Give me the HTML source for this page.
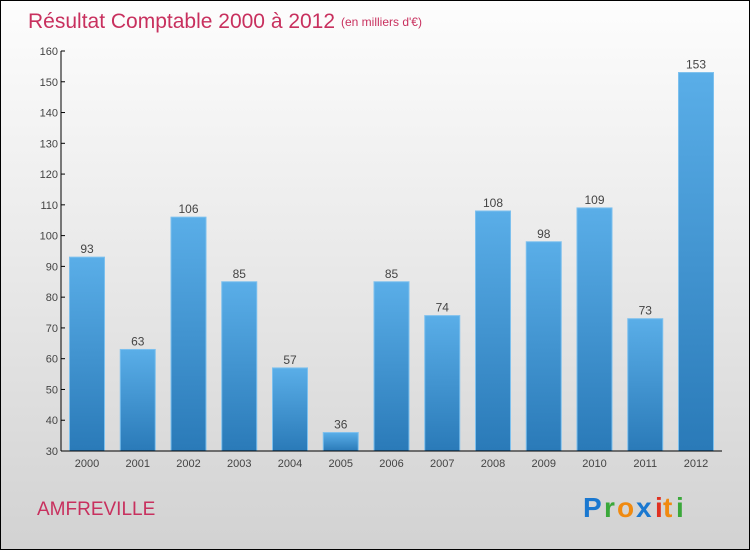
<!DOCTYPE html>
<html><head><meta charset="utf-8"><style>
body{margin:0}
#c{width:750px;height:550px;position:relative;overflow:hidden;background:linear-gradient(#fdfdfd,#e8e8e8 50%,#d2d2d2);border:1px solid #000;box-sizing:border-box;font-family:"Liberation Sans",sans-serif}
</style></head><body>
<div id="c">
<svg width="750" height="550" id="svg">
<defs><linearGradient id="bg" x1="0" y1="0" x2="0" y2="1"><stop offset="0" stop-color="#5aaee8"/><stop offset="1" stop-color="#2a7ab8"/></linearGradient></defs>
<text x="27" y="27" font-size="21" fill="#c8305e">Résultat Comptable 2000 à 2012</text>
<text x="340" y="25" font-size="12" fill="#c8305e">(en milliers d'€)</text>
<text x="36" y="514" font-size="19" fill="#c8305e">AMFREVILLE</text>
<g font-size="28" font-weight="bold" font-family="Liberation Sans, sans-serif">
<text x="582" y="516" fill="#1a78d0">P</text><text x="603" y="516" fill="#3aa83a">r</text><text x="616" y="516" fill="#f08a10">o</text><text x="635" y="516" fill="#1a78d0">x</text><text x="654" y="516" fill="#e03020">i</text><text x="662" y="516" fill="#f08a10">t</text><text x="675" y="516" fill="#3aa83a">i</text>
</g>
<g id="plot"></g>
</svg>
</div>
<script>
const categories=["2000","2001","2002","2003","2004","2005","2006","2007","2008","2009","2010","2011","2012"];
const values=[93,63,106,85,57,36,85,74,108,98,109,73,153];
const yTicks=[30,40,50,60,70,80,90,100,110,120,130,140,150,160];
const NS="http://www.w3.org/2000/svg";
const g=document.getElementById('plot');
const y=v=>450-(v-30)*400/130;
const x=i=>86+i*50.75;
function mk(t,a,p){const e=document.createElementNS(NS,t);for(const k in a)e.setAttribute(k,a[k]);(p||g).appendChild(e);return e;}
values.forEach((v,i)=>{
 const r=mk('rect',{x:x(i)-17.5,y:y(v),width:35,height:450-y(v),fill:'url(#bg)',stroke:'#7cc0ee','stroke-width':1});
 
 
 const t=mk('text',{x:x(i),y:y(v)-4,'text-anchor':'middle','font-size':12,fill:'#444'});t.textContent=v;
 
 
 const c=mk('text',{x:x(i),y:466,'text-anchor':'middle','font-size':11,fill:'#444'});c.textContent=categories[i];
 
 
});
yTicks.forEach(v=>{
 mk('line',{x1:60,x2:64,y1:y(v),y2:y(v),stroke:'#000'});
 const t=mk('text',{x:57,y:y(v)+4,'text-anchor':'end','font-size':11,fill:'#444'});t.textContent=v;
 
 
});
const ya=mk('line',{x1:60,x2:60,y1:50,y2:450,stroke:'#000'});


const xa=mk('line',{x1:60,x2:721,y1:450,y2:450,stroke:'#000'});


</script>
</body></html>
